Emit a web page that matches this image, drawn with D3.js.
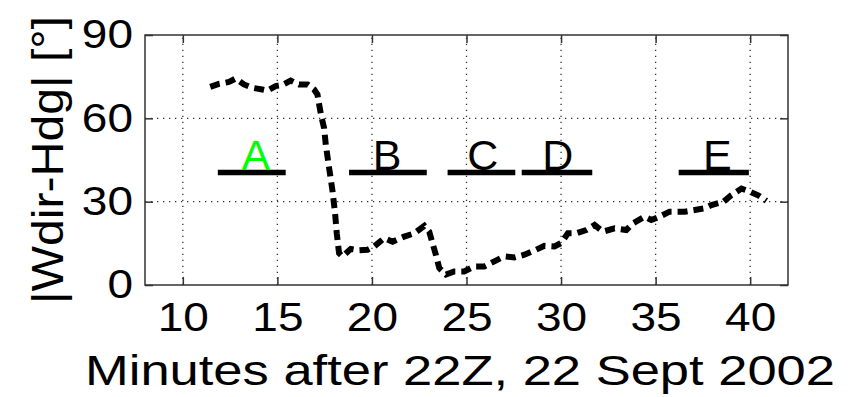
<!DOCTYPE html>
<html>
<head>
<meta charset="utf-8">
<script src="https://cdn.jsdelivr.net/npm/d3@7"></script>
<style>
  html, body { margin: 0; padding: 0; background: #fff; }
  svg { display: block; }
  text { font-family: "Liberation Sans", Arial, Helvetica, sans-serif; fill: #000; }
</style>
</head>
<body>
<svg id="chart" width="851" height="397"></svg>
<script>
// ---- data ----
const xTicks = [10, 15, 20, 25, 30, 35, 40];
const yTicks = [0, 30, 60, 90];
const minutes = [
  11.45, 11.9, 12.44, 12.79, 13.23, 13.67, 14.2, 14.47, 14.91, 15.26, 15.7, 16.14, 16.59, 16.94,
  17.12, 17.22, 17.33, 17.47, 17.56, 17.73, 17.91, 18.05, 18.14, 18.26, 18.44, 18.88, 19.3, 19.77,
  20.12, 20.65, 21.09, 21.7, 22.24, 22.77, 23.03, 23.2, 23.38, 23.56, 23.91, 24.35, 24.88, 25.41,
  25.94, 26.47, 27.0, 27.53, 28.06, 28.59, 29.12, 29.65, 30.0, 30.36, 30.8, 31.33, 31.77, 32.21,
  32.83, 33.45, 33.8, 34.42, 34.77, 35.21, 35.74, 36.54, 37.07, 37.6, 37.95, 38.57, 39.0, 39.54,
  39.89, 40.42, 40.86
];
const angleDiff = [
  71.3, 72.4, 73.1, 74.3, 72.2, 71.0, 70.4, 70.0, 71.6, 72.0, 73.6, 72.2, 72.2, 70.4,
  68.6, 64.5, 60.5, 56.5, 50.5, 42.4, 34.1, 25.8, 18.6, 11.5, 10.3, 13.0, 12.5, 12.7,
  13.9, 16.9, 15.6, 17.4, 18.6, 21.3, 19.2, 15.1, 10.9, 6.1, 3.8, 4.9, 4.9, 6.7,
  6.7, 8.5, 10.3, 9.9, 10.9, 12.4, 14.1, 13.9, 15.1, 18.6, 18.6, 19.8, 21.6, 19.2,
  20.4, 19.8, 22.2, 24.6, 23.4, 24.6, 26.4, 26.4, 27.0, 27.6, 28.8, 29.9, 32.3, 34.7,
  33.9, 32.3, 30.3
];
const segLabels = ["A", "B", "C", "D", "E"];
const segStart = [11.85, 18.79, 24.0, 27.92, 36.22];
const segEnd = [15.44, 22.9, 27.58, 31.65, 39.93];
const segLabelX = [13.86, 20.8, 25.86, 29.83, 38.27];
const segLevel = 40.5;
const segColors = ["#00ff00", "#000000", "#000000", "#000000", "#000000"];
const xLabel = "Minutes after 22Z, 22 Sept 2002";
const yLabel = "|Wdir-Hdg| [\u00b0]";

// ---- layout ----
const mLeft = 145, mRight = 788, mTop = 35, mBottom = 285;
const stretch = 1.15;
const svg = d3.select("#chart");
svg.append("rect").attr("width", 851).attr("height", 397).attr("fill", "#fff");

const x = d3.scaleLinear().domain([8, 42]).range([mLeft, mRight]);
const y = d3.scaleLinear().domain([0, 90]).range([mBottom, mTop]);

// grid
const grid = svg.append("g").attr("stroke", "#333").attr("stroke-width", 1.3)
  .attr("stroke-dasharray", "1.3,4.7");
grid.selectAll(".gx").data(xTicks).join("line")
  .attr("x1", d => x(d)).attr("x2", d => x(d)).attr("y1", mBottom).attr("y2", mTop);
grid.selectAll(".gy").data(yTicks.filter(d => d > 0 && d < 90)).join("line")
  .attr("y1", d => y(d)).attr("y2", d => y(d)).attr("x1", mLeft).attr("x2", mRight);

// axes (ticks inside)
function styleAxis(g) {
  g.select(".domain").remove();
  g.selectAll(".tick line").attr("stroke", "#333").attr("stroke-width", 1.5);
  g.selectAll("text").style("font-size", "40px").attr("fill", "#000");
}
svg.append("g").attr("transform", `translate(0,${mBottom})`)
  .call(d3.axisBottom(x).tickValues(xTicks).tickSize(-8).tickPadding(18).tickFormat(d3.format("d")))
  .call(styleAxis)
  .call(g => g.selectAll("text").attr("transform", `scale(${stretch},1)`));
svg.append("g").attr("transform", `translate(0,${mTop})`)
  .call(d3.axisTop(x).tickValues(xTicks).tickSize(-8).tickFormat(""))
  .call(styleAxis);
svg.append("g").attr("transform", `translate(${mLeft},0)`)
  .call(d3.axisLeft(y).tickValues(yTicks).tickSize(-8).tickPadding(12).tickFormat(d3.format("d")))
  .call(styleAxis)
  .call(g => g.selectAll("text").attr("x", -12 / stretch).attr("transform", `scale(${stretch},1)`));
svg.append("g").attr("transform", `translate(${mRight},0)`)
  .call(d3.axisRight(y).tickValues(yTicks).tickSize(-8).tickFormat(""))
  .call(styleAxis);

// box
svg.append("rect").attr("x", mLeft).attr("y", mTop).attr("width", mRight - mLeft).attr("height", mBottom - mTop)
  .attr("fill", "none").attr("stroke", "#333").attr("stroke-width", 1.5);

// segments
const segIdx = d3.range(segLabels.length);
svg.append("g").selectAll("line").data(segIdx).join("line")
  .attr("x1", i => x(segStart[i])).attr("x2", i => x(segEnd[i]))
  .attr("y1", y(segLevel)).attr("y2", y(segLevel))
  .attr("stroke", "#000").attr("stroke-width", 5.5);
svg.append("g").selectAll("text").data(segIdx).join("text")
  .attr("x", i => x(segLabelX[i])).attr("y", y(segLevel) - 2.5)
  .attr("text-anchor", "middle").style("font-size", "43px")
  .style("fill", i => segColors[i])
  .text(i => segLabels[i]);

// data line
const pts = minutes.map((m, i) => [m, angleDiff[i]]);
svg.append("path").datum(pts)
  .attr("fill", "none").attr("stroke", "#000").attr("stroke-width", 6)
  .attr("stroke-dasharray", "10,6")
  .attr("d", d3.line().x(d => x(d[0])).y(d => y(d[1])));

// labels
svg.append("text").attr("x", 460).attr("y", 385).attr("text-anchor", "middle")
  .style("font-size", "42px").attr("textLength", 750).attr("lengthAdjust", "spacingAndGlyphs")
  .text(xLabel);
svg.append("text").attr("transform", "translate(63,160) rotate(-90)").attr("text-anchor", "middle")
  .style("font-size", "45px").attr("textLength", 288).attr("lengthAdjust", "spacingAndGlyphs")
  .text(yLabel);
</script>
</body>
</html>
